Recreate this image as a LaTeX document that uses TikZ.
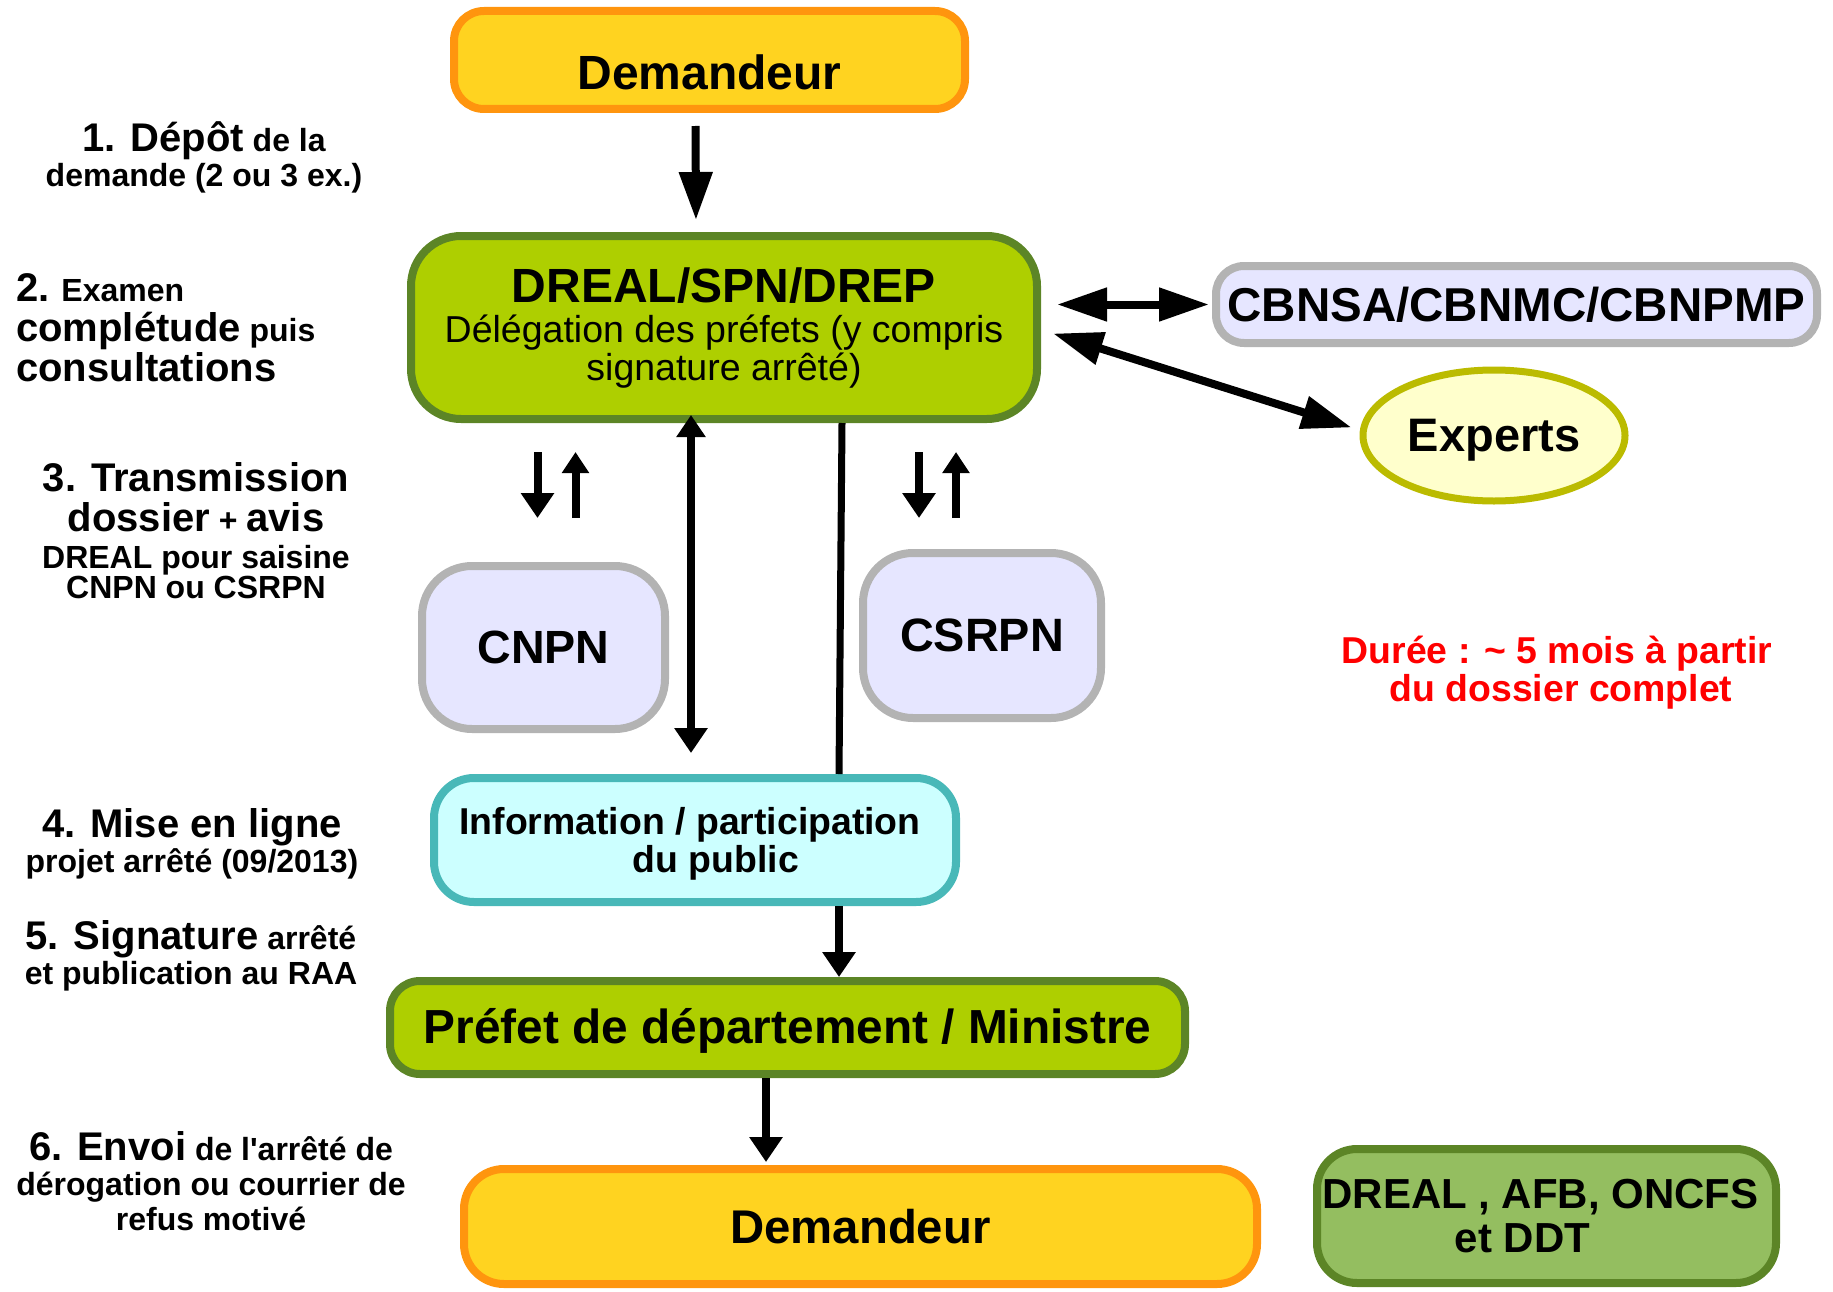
\documentclass[tikz,border=0pt]{standalone}
\usepackage{fontspec}
\setmainfont{Liberation Sans}[Ligatures=TeXOff]
\usetikzlibrary{shapes.geometric,arrows.meta,calc,positioning}

\definecolor{JauneDem}{HTML}{FFD320}
\definecolor{OrangeDem}{HTML}{FF950E}
\definecolor{VertClair}{HTML}{AECF00}
\definecolor{VertFonce}{HTML}{5C8526}
\definecolor{Lavande}{HTML}{E6E6FF}
\definecolor{GrisBord}{HTML}{B3B3B3}
\definecolor{CremeExp}{HTML}{FFFFCC}
\definecolor{OliveExp}{HTML}{BBBB00}
\definecolor{CyanInfo}{HTML}{CCFFFF}
\definecolor{TurquoiseInfo}{HTML}{48B8B8}
\definecolor{VertMoyen}{HTML}{94BE60}

\newcommand{\grand}{\fontsize{40}{40}\selectfont}
\newcommand{\petit}{\fontsize{32}{35}\selectfont}

\begin{document}
\begin{tikzpicture}[x=1pt,y=-1pt,
  every node/.style={align=center,inner sep=0pt},
  boite/.style={draw,line width=8pt},
  etape/.style={font={\bfseries\petit\lineskiplimit=-100pt}},
  fleche/.style={line width=8pt,-{Triangle[length=25pt,width=32pt]}},
  flechehaut/.style={line width=8pt,-{Triangle[length=21pt,width=26pt]}},
  flechelongue/.style={line width=8pt,-{Triangle[length=48pt,width=32pt]}},
  doublelongue/.style={line width=8pt,{Triangle[length=50pt,width=32pt]}-{Triangle[length=50pt,width=32pt]}},
  doublecourte/.style={line width=8pt,{Triangle[length=22pt,width=28pt]}-{Triangle[length=25pt,width=32pt]}}]
\useasboundingbox (0,0) rectangle (1833,1292);

% boites
\node[boite,fill=JauneDem,draw=OrangeDem,rounded corners=30pt,minimum width=511pt,minimum height=98pt,text height=60pt,text depth=0pt,font=\bfseries\fontsize{48}{50}\selectfont] (Demandeur) at (709.5,60) {Demandeur};
\node[boite,fill=VertClair,draw=VertFonce,rounded corners=50pt,minimum width=626pt,minimum height=183pt,font={\fontsize{37.5}{38}\selectfont\lineskiplimit=-100pt}] (Dreal) at (724,327.5) {{\bfseries\fontsize{48}{38}\selectfont DREAL/SPN/DREP}\\[2pt]Délégation des préfets (y compris\\signature arrêté)};
\node[boite,fill=Lavande,draw=GrisBord,rounded corners=28pt,minimum width=601pt,minimum height=77pt,font=\bfseries\fontsize{47.5}{50}\selectfont] (Cbn) at (1516.5,304.5) {CBNSA/CBNMC/CBNPMP};
\node[boite,ellipse,fill=CremeExp,draw=OliveExp,line width=7pt,minimum width=262pt,minimum height=131pt,text depth=0pt,font=\bfseries\fontsize{47}{50}\selectfont] (Experts) at (1494,435.5) {Experts};
\node[boite,fill=Lavande,draw=GrisBord,rounded corners=50pt,minimum width=243pt,minimum height=163pt,font=\bfseries\fontsize{46.6}{50}\selectfont] (Cnpn) at (543.5,647.5) {CNPN};
\node[boite,fill=Lavande,draw=GrisBord,rounded corners=50pt,minimum width=238pt,minimum height=165pt,font=\bfseries\fontsize{46.8}{50}\selectfont] (Csrpn) at (982,635.5) {CSRPN};
\node[boite,fill=CyanInfo,draw=TurquoiseInfo,rounded corners=40pt,minimum width=522pt,minimum height=124pt,text depth=0pt,font=\bfseries\fontsize{37.4}{38}\selectfont] (Information) at (695,840) {Information / participation\hspace*{10pt}\\\hspace*{42pt}du public};
\node[boite,fill=VertClair,draw=VertFonce,rounded corners=30pt,minimum width=795pt,minimum height=93pt,text depth=3pt,font=\bfseries\fontsize{47.8}{50}\selectfont] (Prefet) at (787.5,1027.5) {Préfet de département / Ministre};
\node[boite,fill=JauneDem,draw=OrangeDem,rounded corners=40pt,minimum width=793pt,minimum height=115pt,font=\bfseries\fontsize{47.3}{50}\selectfont] (DemandeurFinal) at (860.5,1226.5) {Demandeur};
\node[boite,fill=VertMoyen,draw=VertFonce,rounded corners=40pt,minimum width=459pt,minimum height=134pt,font=\bfseries\fontsize{42}{44}\selectfont] (Services) at (1546.5,1216) {DREAL , AFB, ONCFS\hspace*{12pt}\\et DDT\hspace*{48pt}};
\node[text=red,font=\bfseries\fontsize{37.4}{38}\selectfont] (Duree) at (1557,673) {Durée : \textasciitilde{} 5 mois à partir\\\hspace*{8pt}du dossier complet};

% etapes
\node[etape] (Etape1) at (204,157) {{\grand 1. Dépôt} de la\\demande (2 ou 3 ex.)};
\node[etape,anchor=west,align=left] (Etape2) at (16,328) {{\grand 2.} Examen\\[5pt]{\grand complétude} puis\\[5pt]{\grand consultations}};
\node[etape] (Etape3) at (196,531) {{\grand 3. Transmission}\\[5pt]{\grand dossier} + {\grand avis}\\[2pt]DREAL pour saisine\\[-5pt]CNPN ou CSRPN};
\node[etape] (Etape4) at (192,844) {{\grand 4. Mise en ligne}\\projet arrêté (09/2013)};
\node[etape] (Etape5) at (191,956) {{\grand 5. Signature} arrêté\\et publication au RAA};
\node[etape] (Etape6) at (211,1181) {{\grand 6. Envoi} de l'arrêté de\\dérogation ou courrier de\\refus motivé};

% fleches
\draw[flechelongue,shorten <=13pt,shorten >=12pt] ($(Demandeur.south)+(-14,0)$) -- ($(Dreal.north)+(-28,0)$);
\draw[doublelongue,shorten <=16pt,shorten >=3pt] (Dreal.east |- Cbn.west) -- (Cbn.west);
\draw[doublelongue] ($(Dreal.east)+(12,6)$) -- ($(Experts.west)+(-8,-8)$);
\draw[fleche] ($(Cnpn.north |- Dreal.south)+(-6,29)$) -- ($(Cnpn.north)+(-6,-44)$);
\draw[flechehaut] ($(Cnpn.north)+(32,-44)$) -- ($(Cnpn.north |- Dreal.south)+(32,29)$);
\draw[fleche] ($(Csrpn.north |- Dreal.south)+(-63,29)$) -- ($(Csrpn.north)+(-63,-31)$);
\draw[flechehaut] ($(Csrpn.north)+(-26,-31)$) -- ($(Csrpn.north |- Dreal.south)+(-26,29)$);
\draw[doublecourte] ($(Dreal.south)+(-33,-8)$) -- ($(Information.north)+(-4,-21)$);
\draw[line width=7pt] ($(Dreal.south)+(118,0)$) -- ($(Information.north)+(144,0)$);
\draw[fleche] ($(Information.south)+(144,0)$) -- ($(Prefet.north)+(51.5,0)$);
\draw[fleche,shorten >=3pt] ($(Prefet.south)+(-21.5,0)$) -- ($(DemandeurFinal.north)+(-94.5,0)$);
\end{tikzpicture}
\end{document}
